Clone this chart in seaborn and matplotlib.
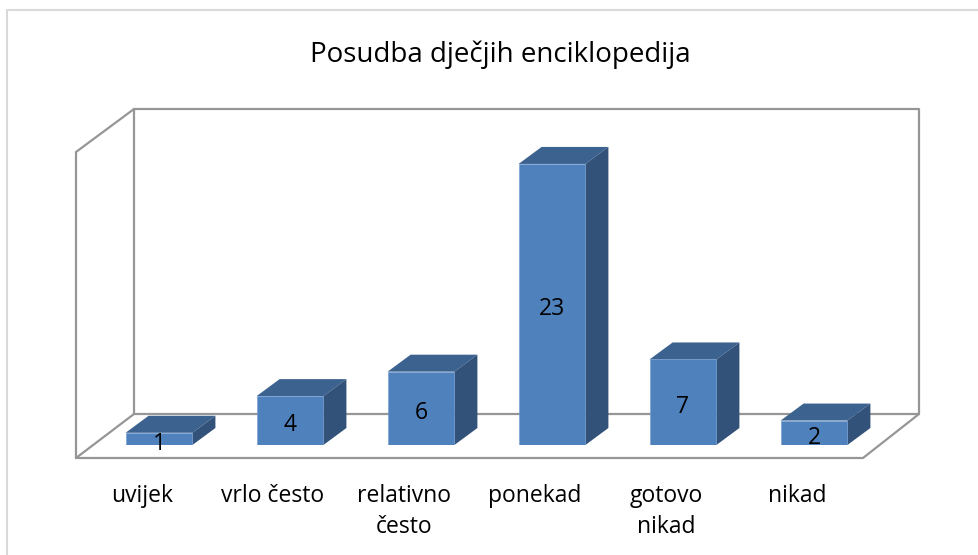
import matplotlib
matplotlib.use('Agg')
import matplotlib.pyplot as plt
from matplotlib.lines import Line2D
from matplotlib.transforms import ScaledTranslation
import pandas as pd
import seaborn as sns

categories = ['uvijek', 'vrlo često', 'relativno\nčesto', 'ponekad', 'gotovo\nnikad', 'nikad']
values = [1, 4, 6, 23, 7, 2]
title = 'Posudba dječjih enciklopedija'

W, H = 979, 555
front = '#4F81BD'
top = '#3C628F'
side = '#32527A'
wall = '#969696'

sns.set_theme(style='white')
plt.rcParams['font.family'] = ['Open Sans', 'DejaVu Sans']


def px(x, y):
    return x / W, 1 - y / H


df = pd.DataFrame({'kategorija': categories, 'broj': values})

fig = plt.figure(figsize=(W / 100, H / 100), dpi=100)
fig.patch.set_facecolor('white')

# axes placed so that y=0 sits on the bar feet, one category = 131 px
ax = fig.add_axes([93.5 / W, 1 - 445 / H, 786 / W, (445 - 139.5) / H])
ax.patch.set_alpha(0)

sns.barplot(data=df, x='kategorija', y='broj', color=front, saturation=1,
            width=0.51, ax=ax, zorder=3, edgecolor='#6F9BD1', linewidth=0.4)
ax.set_xlim(-0.5, 5.5)
ax.set_ylim(0, 25)
ax.set_xlabel('')
ax.set_ylabel('')
ax.set_yticks([])
sns.despine(ax=ax, left=True, bottom=True)

# fake 3d depth for every bar
dx = 23 / 131
dy = 17 / (305.5 / 25)
for bar in ax.patches:
    x0, w, h = bar.get_x(), bar.get_width(), bar.get_height()
    x1 = x0 + w
    ax.fill([x0, x0 + dx, x1 + dx, x1], [h, h + dy, h + dy, h], color=top, lw=0, zorder=2, clip_on=False)
    ax.fill([x1, x1 + dx, x1 + dx, x1], [0, dy, h + dy, h], color=side, lw=0, zorder=2, clip_on=False)

labels = ax.bar_label(ax.containers[0], label_type='center', fontsize=16.5, color='black', zorder=5)
for t in labels:
    t.xyann = (0, -3.5)

ax.tick_params(axis='x', length=0, pad=28, labelsize=16.5, labelcolor='black')
for label in ax.get_xticklabels():
    label.set_linespacing(1.4)
    label.set_transform(label.get_transform() + ScaledTranslation(-17 / 100, 0, fig.dpi_scale_trans))

# walls and floor of the 3d box
walls = [
    [(76, 458), (76, 152), (134, 109), (919, 109), (919, 414), (863, 458), (76, 458)],
    [(134, 109), (134, 414), (919, 414)],
    [(134, 414), (76, 458)],
]
for pts in walls:
    xs, ys = zip(*[px(*p) for p in pts])
    fig.add_artist(Line2D(xs, ys, color=wall, lw=1.6, zorder=0))

# outer chart frame, only left and top show
xs, ys = zip(*[px(*p) for p in [(7, 555), (7, 10), (979, 10)]])
fig.add_artist(Line2D(xs, ys, color='#D9D9D9', lw=1.5, zorder=0))

fig.text(500 / W, 1 - 55 / H, title, ha='center', va='center', fontsize=20, color='black')

fig.savefig('out.png', dpi=100)
